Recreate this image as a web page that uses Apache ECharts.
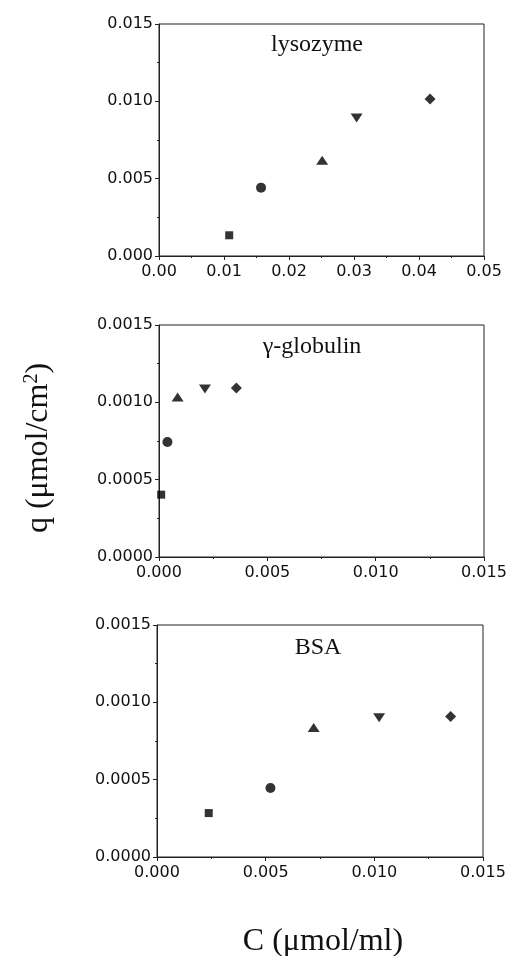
<!DOCTYPE html>
<html>
<head>
<meta charset="utf-8">
<script src="https://cdn.jsdelivr.net/npm/echarts@6/dist/echarts.min.js"></script>
<style>
html,body{margin:0;padding:0;background:#fff;}
#chart{width:510px;height:956px;}
</style>
</head>
<body>
<div id="chart"></div>
<script>
// ---- data ----
var panelNames = ['lysozyme', 'γ-globulin', 'BSA'];
var lysoC = [0.0108, 0.0157, 0.0251, 0.0304, 0.0417];
var lysoQ = [0.00134, 0.00442, 0.00619, 0.00892, 0.01015];
var globC = [0.0001, 0.00039, 0.00086, 0.00212, 0.00357];
var globQ = [0.000403, 0.000744, 0.001034, 0.001086, 0.001093];
var bsaC = [0.00238, 0.00522, 0.00721, 0.01022, 0.01351];
var bsaQ = [0.000284, 0.000446, 0.000837, 0.000901, 0.000908];
var markerShapes = ['rect', 'circle', 'triangle', 'triangle', 'diamond'];
var markerRotate = [0, 0, 0, 180, 0];
var markerSizes = [8, 10, [12, 9], [12, 9], 11];

var lysoXTicks = ['0.00', '0.01', '0.02', '0.03', '0.04', '0.05'];
var lysoYTicks = ['0.000', '0.005', '0.010', '0.015'];
var smallXTicks = ['0.000', '0.005', '0.010', '0.015'];
var smallYTicks = ['0.0000', '0.0005', '0.0010', '0.0015'];
var xTitle = 'C (μmol/ml)';
var yTitle = 'q (μmol/cm{sup|2})';

var panelsC = [lysoC, globC, bsaC];
var panelsQ = [lysoQ, globQ, bsaQ];
var xMax = [0.05, 0.015, 0.015];
var xInt = [0.01, 0.005, 0.005];
var yMax = [0.015, 0.0015, 0.0015];
var yInt = [0.005, 0.0005, 0.0005];
var xTickSets = [lysoXTicks, smallXTicks, smallXTicks];
var yTickSets = [lysoYTicks, smallYTicks, smallYTicks];

var gridPos = [
  {left: 159, top: 24, width: 325, height: 232},
  {left: 159, top: 325, width: 325, height: 232},
  {left: 157, top: 625, width: 326, height: 232}
];
var labelPos = [[317, 45], [312, 347], [318, 648]];

var tickFont = '"DejaVu Sans", Arial, sans-serif';
var serifFont = '"Liberation Serif", "Times New Roman", serif';
var axisColor = '#222';

function labeler(ticks, interval) {
  return function (v) {
    var i = Math.round(v / interval);
    return ticks[i] !== undefined ? ticks[i] : '';
  };
}

var grids = [], xAxes = [], yAxes = [], series = [], graphics = [];
for (var p = 0; p < 3; p++) {
  grids.push(Object.assign({show: true, borderColor: axisColor, borderWidth: 1, backgroundColor: 'transparent', containLabel: false}, gridPos[p]));
  xAxes.push({
    type: 'value', gridIndex: p, min: 0, max: xMax[p], interval: xInt[p],
    axisLine: {show: true, onZero: false, lineStyle: {color: axisColor, width: 1}},
    axisTick: {show: true, inside: false, length: 4, lineStyle: {color: axisColor}},
    minorTick: {show: true, splitNumber: 2, length: 2, lineStyle: {color: axisColor}},
    splitLine: {show: false},
    axisLabel: {show: true, margin: 8, fontFamily: tickFont, fontSize: 16, color: '#111',
      showMinLabel: true, showMaxLabel: true, hideOverlap: false,
      formatter: labeler(xTickSets[p], xInt[p])}
  });
  yAxes.push({
    type: 'value', gridIndex: p, min: 0, max: yMax[p], interval: yInt[p],
    axisLine: {show: true, onZero: false, lineStyle: {color: axisColor, width: 1}},
    axisTick: {show: true, inside: false, length: 4, lineStyle: {color: axisColor}},
    minorTick: {show: true, splitNumber: 2, length: 2, lineStyle: {color: axisColor}},
    splitLine: {show: false},
    axisLabel: {show: true, margin: 6, fontFamily: tickFont, fontSize: 16, color: '#111',
      showMinLabel: true, showMaxLabel: true,
      formatter: labeler(yTickSets[p], yInt[p])}
  });
  var data = [];
  for (var i = 0; i < panelsC[p].length; i++) {
    data.push({
      value: [panelsC[p][i], panelsQ[p][i]],
      symbol: markerShapes[i],
      symbolRotate: markerRotate[i],
      symbolSize: markerSizes[i]
    });
  }
  series.push({
    type: 'scatter', xAxisIndex: p, yAxisIndex: p, data: data,
    itemStyle: {color: '#000'}, silent: true, animation: false
  });
  graphics.push({
    type: 'text', x: labelPos[p][0], y: labelPos[p][1],
    style: {text: panelNames[p], font: '24px ' + serifFont, fill: '#111', textAlign: 'center', textVerticalAlign: 'middle'}
  });
}

graphics.push({
  type: 'text', x: 323, y: 942,
  style: {text: xTitle, font: '32px ' + serifFont, fill: '#111', textAlign: 'center', textVerticalAlign: 'middle'}
});
graphics.push({
  type: 'text', x: 39, y: 448, rotation: Math.PI / 2,
  style: {
    text: yTitle, font: '32px ' + serifFont, fill: '#111', textAlign: 'center', textVerticalAlign: 'middle',
    rich: {sup: {fontSize: 20, fontFamily: serifFont, verticalAlign: 'top', padding: [0, 0, 14, 0], fill: '#111'}}
  }
});

var chart = echarts.init(document.getElementById('chart'), null, {renderer: 'canvas'});
chart.setOption({
  backgroundColor: '#fff',
  animation: false,
  grid: grids,
  xAxis: xAxes,
  yAxis: yAxes,
  series: series,
  graphic: graphics
});
</script>
</body>
</html>
